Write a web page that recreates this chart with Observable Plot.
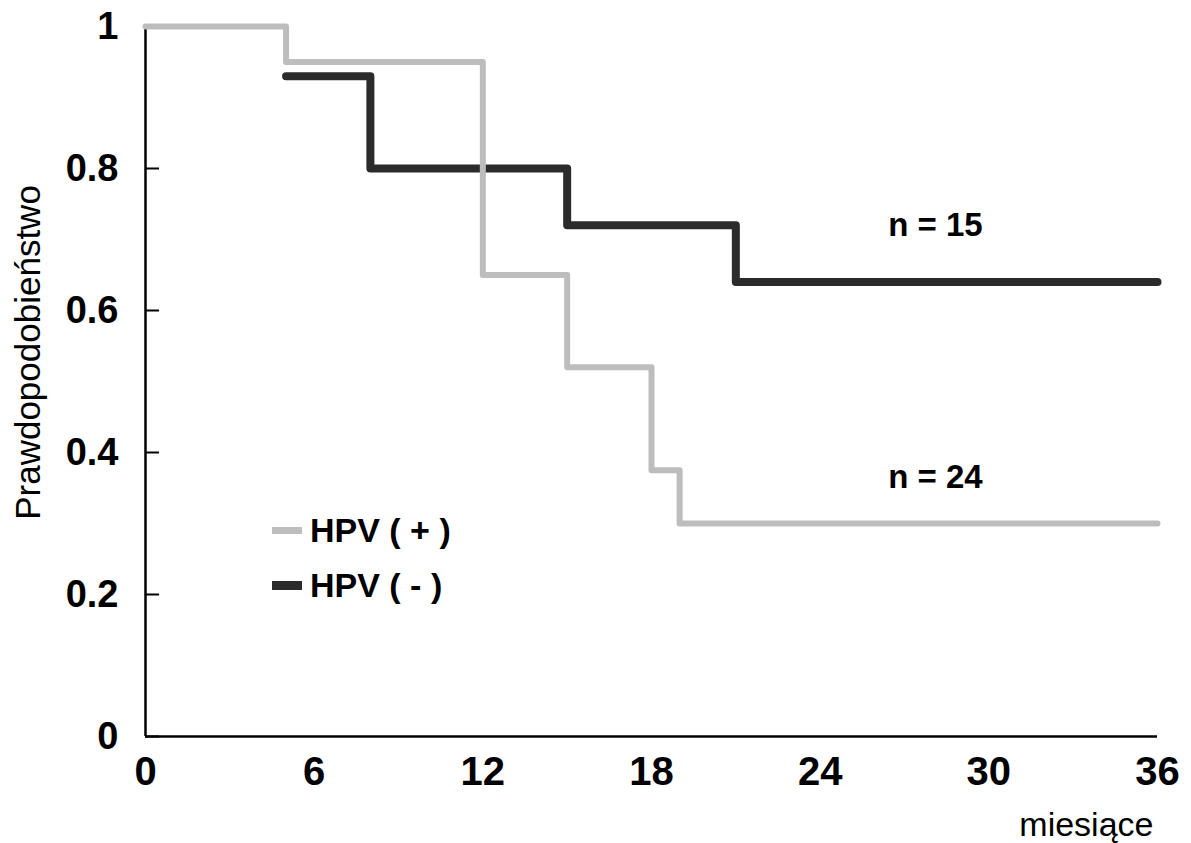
<!DOCTYPE html>
<html><head><meta charset="utf-8">
<script src="https://cdn.jsdelivr.net/npm/d3@7"></script>
<script src="https://cdn.jsdelivr.net/npm/@observablehq/plot@0.6"></script>
<style>
body{margin:0;background:#fff;}
#wrap{position:relative;width:1191px;height:843px;font-family:"Liberation Sans",Arial,sans-serif;}
.leg{position:absolute;left:272px;display:flex;align-items:center;font-weight:bold;font-size:34px;color:#000;}
.sw{width:30px;margin-right:8px;}
</style></head><body><div id="wrap"></div>
<script>
// Kaplan-Meier curves
const hpvPosMonths = [0, 5, 12, 15, 18, 19, 36];
const hpvPosSurv   = [1, 0.95, 0.65, 0.52, 0.375, 0.30, 0.30];
const hpvNegMonths = [5, 8, 15, 21, 36];
const hpvNegSurv   = [0.93, 0.80, 0.72, 0.64, 0.64];
const seriesNames  = ["HPV ( + )", "HPV ( - )"];
const seriesColors = ["#bdbdbd", "#2b2b2b"];
const nLabels      = ["n = 24", "n = 15"];
const xTicks = [0, 6, 12, 18, 24, 30, 36];
const yTicks = [0, 0.2, 0.4, 0.6, 0.8, 1];
const yTickLabels = ["0", "0.2", "0.4", "0.6", "0.8", "1"];
const xTitle = "miesiące";
const yTitle = "Prawdopodobieństwo";

const pos = hpvPosMonths.map((m, i) => ({month: m, p: hpvPosSurv[i]}));
const neg = hpvNegMonths.map((m, i) => ({month: m, p: hpvNegSurv[i]}));

const chart = Plot.plot({
  width: 1191, height: 843,
  marginLeft: 145, marginRight: 34, marginTop: 26, marginBottom: 107,
  style: {fontFamily: "'Liberation Sans', Arial, sans-serif", background: "white", color: "black"},
  x: {domain: [0, 36]},
  y: {domain: [0, 1]},
  marks: [
    Plot.axisX(xTicks, {tickSize: 0, tickPadding: 20, fontSize: 40, fontWeight: "bold", label: null}),
    Plot.axisY(yTicks, {tickSize: 0, tickPadding: 27, fontSize: 38, fontWeight: "bold", label: null, letterSpacing: 1,
      tickFormat: d => yTickLabels[yTicks.indexOf(d)]}),
    Plot.ruleY(yTicks, {x1: 0, x2: 0.5, stroke: "black", strokeWidth: 2}),
    Plot.ruleX([0], {y1: 0, y2: 1, stroke: "black", strokeWidth: 2.5}),
    Plot.ruleY([0], {x1: 0, x2: 36, stroke: "black", strokeWidth: 2.5}),
    Plot.line(neg, {x: "month", y: "p", curve: "step-after", stroke: seriesColors[1], strokeWidth: 8, strokeLinejoin: "round"}),
    Plot.line(pos, {x: "month", y: "p", curve: "step-after", stroke: seriesColors[0], strokeWidth: 6, strokeLinejoin: "round"}),
    Plot.text([nLabels[1]], {x: 28.1, y: 0.72, fontSize: 33, fontWeight: "bold", textAnchor: "middle"}),
    Plot.text([nLabels[0]], {x: 28.1, y: 0.365, fontSize: 33, fontWeight: "bold", textAnchor: "middle"}),
    Plot.text([yTitle], {frameAnchor: "left", dx: -117, dy: -29, rotate: -90, fontSize: 35, textAnchor: "middle", lineAnchor: "middle"}),
    Plot.text([xTitle], {frameAnchor: "bottom-right", dx: -4, dy: 89, fontSize: 34, textAnchor: "end", lineAnchor: "middle"})
  ]
});
const wrap = document.getElementById("wrap");
wrap.appendChild(chart);

// legend
const legTops = [530, 585];
seriesNames.forEach((name, i) => {
  const row = document.createElement("div");
  row.className = "leg";
  row.style.top = (legTops[i] - 20) + "px";
  row.style.height = "40px";
  const sw = document.createElement("span");
  sw.className = "sw";
  sw.style.height = (i === 0 ? 7 : 9) + "px";
  sw.style.background = seriesColors[i];
  sw.style.display = "inline-block";
  row.appendChild(sw);
  const t = document.createElement("span");
  t.textContent = name;
  row.appendChild(t);
  wrap.appendChild(row);
});
</script>
</body></html>
